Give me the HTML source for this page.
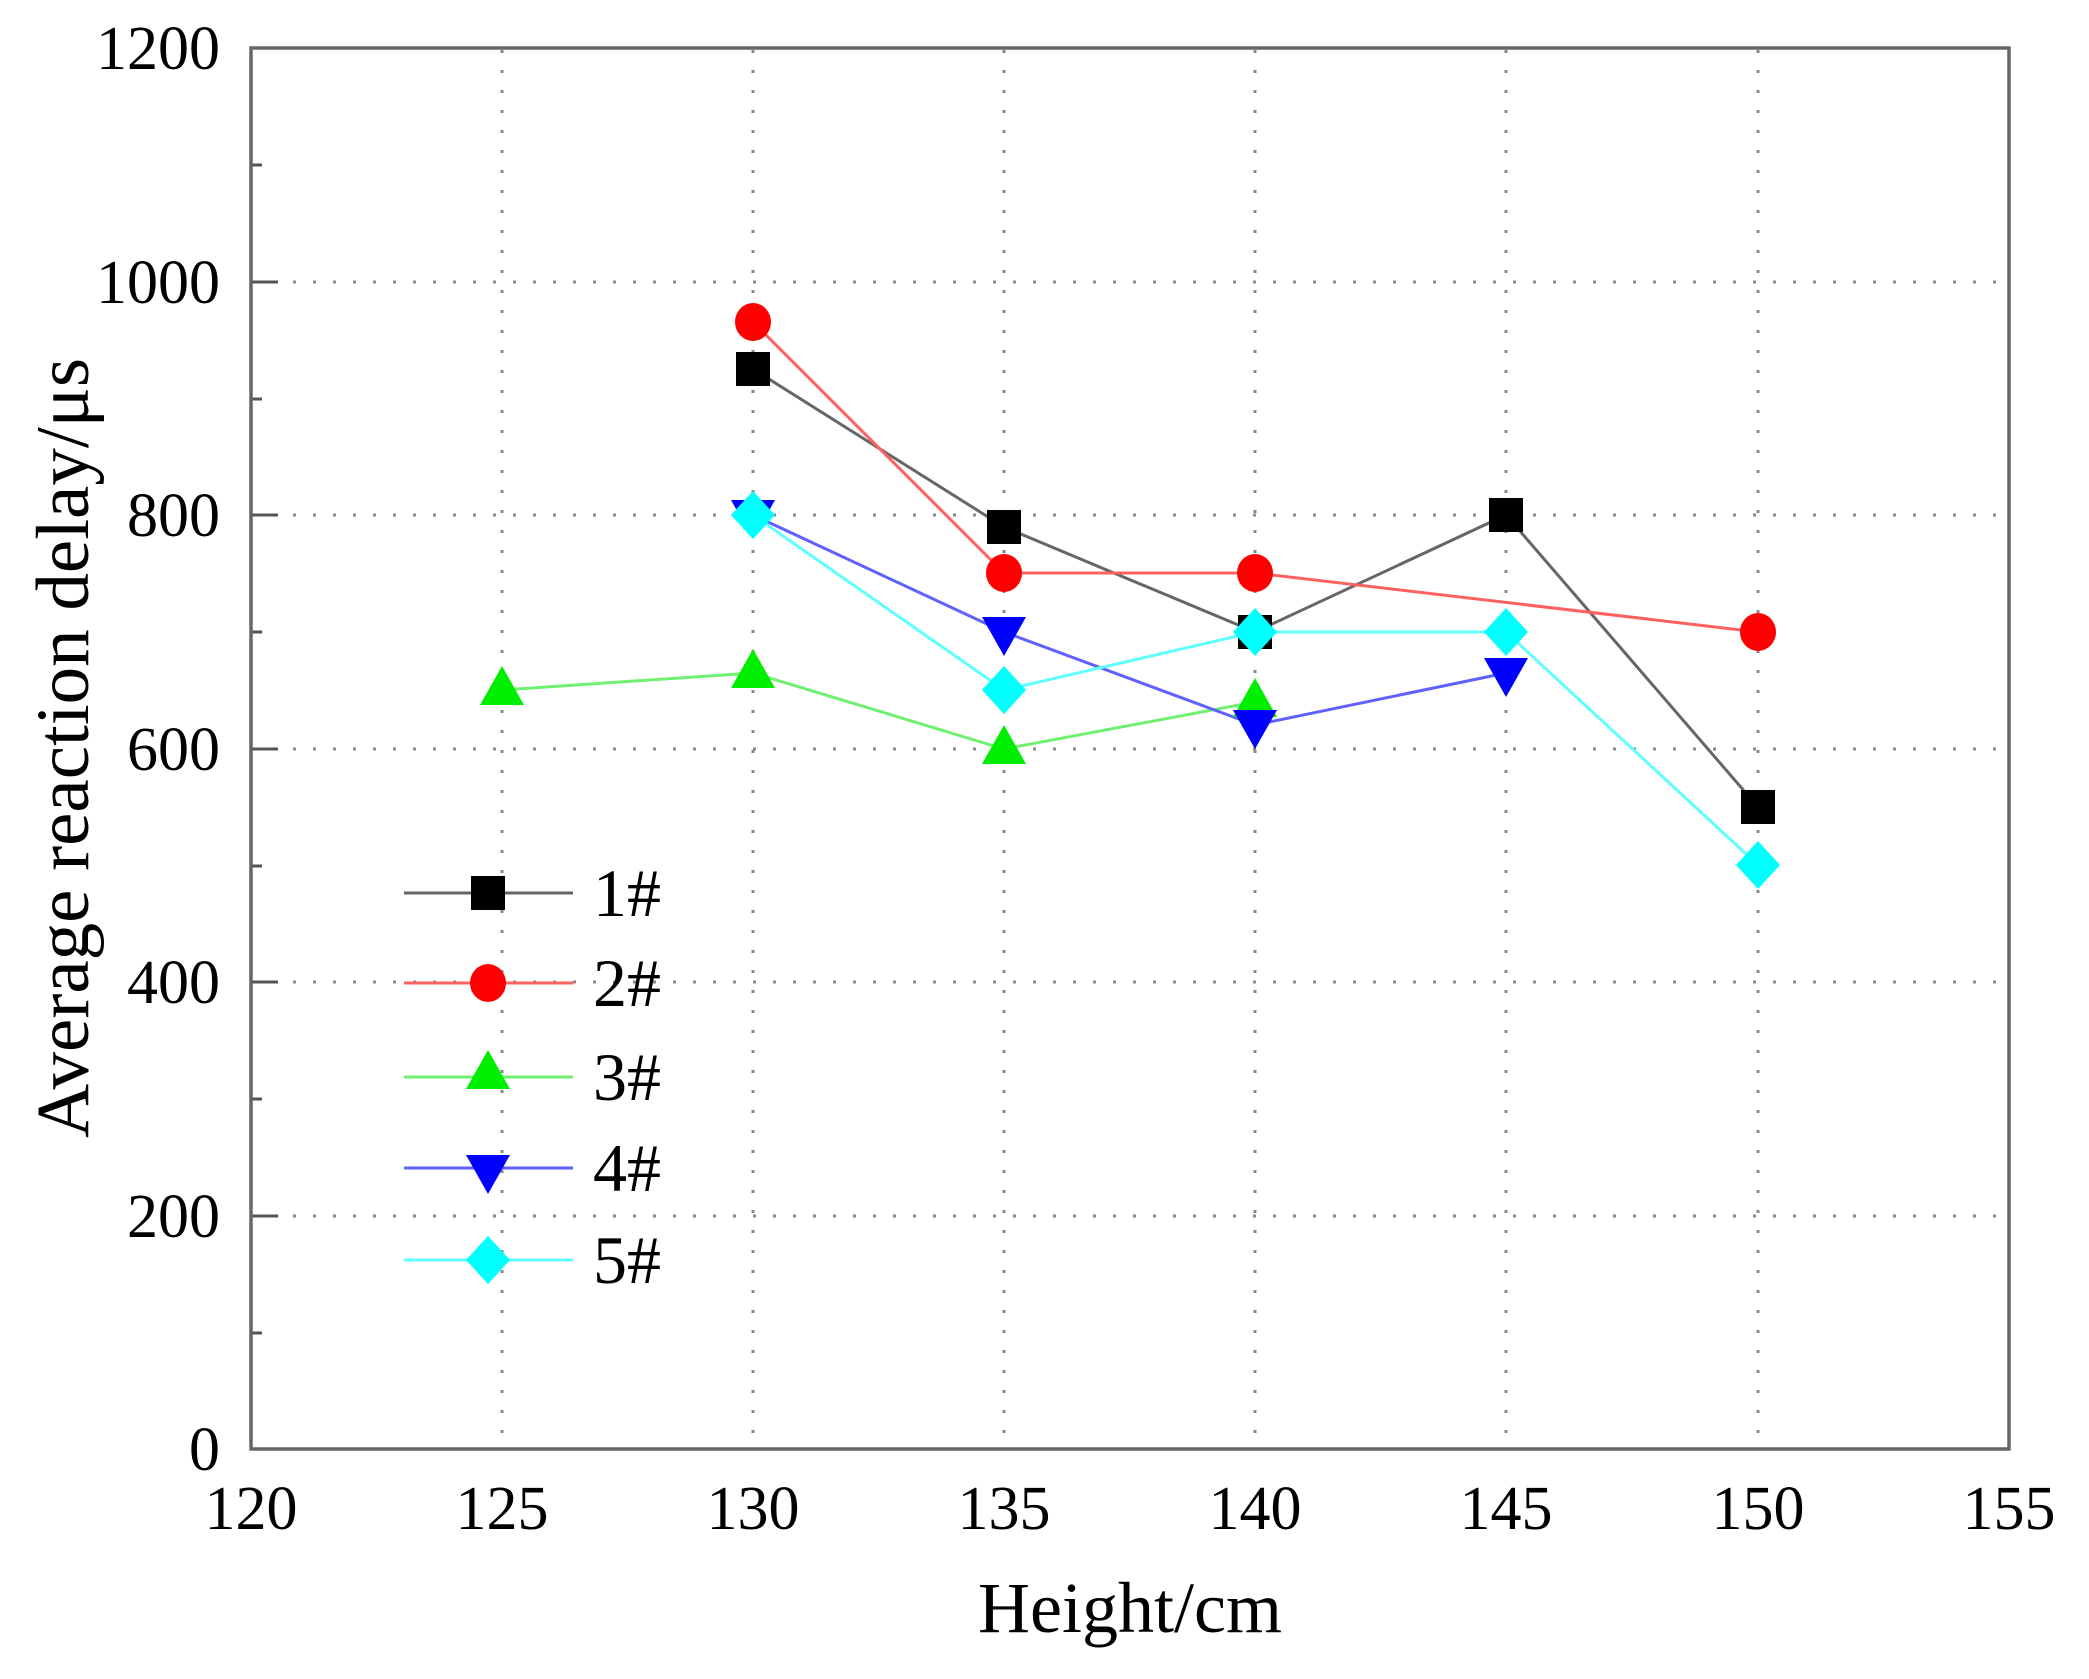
<!DOCTYPE html>
<html><head><style>html,body{margin:0;padding:0;background:#fff}svg{display:block}</style></head>
<body>
<svg width="2089" height="1679" viewBox="0 0 2089 1679" xmlns="http://www.w3.org/2000/svg" font-family="'Liberation Serif', serif">
<g stroke="#888" stroke-width="3" stroke-dasharray="3 17">
<line x1="502" y1="50" x2="502" y2="1447"/><line x1="753" y1="50" x2="753" y2="1447"/><line x1="1004" y1="50" x2="1004" y2="1447"/><line x1="1255" y1="50" x2="1255" y2="1447"/><line x1="1506" y1="50" x2="1506" y2="1447"/><line x1="1758" y1="50" x2="1758" y2="1447"/>
<line x1="253" y1="282" x2="2007" y2="282"/><line x1="253" y1="515" x2="2007" y2="515"/><line x1="253" y1="749" x2="2007" y2="749"/><line x1="253" y1="982" x2="2007" y2="982"/><line x1="253" y1="1216" x2="2007" y2="1216"/>
</g>
<g stroke="#555" stroke-width="3">
<line x1="251" y1="282" x2="278" y2="282"/><line x1="251" y1="515" x2="278" y2="515"/><line x1="251" y1="749" x2="278" y2="749"/><line x1="251" y1="982" x2="278" y2="982"/><line x1="251" y1="1216" x2="278" y2="1216"/>
<line x1="251" y1="165" x2="262" y2="165"/><line x1="251" y1="399" x2="262" y2="399"/><line x1="251" y1="632" x2="262" y2="632"/><line x1="251" y1="866" x2="262" y2="866"/><line x1="251" y1="1099" x2="262" y2="1099"/><line x1="251" y1="1333" x2="262" y2="1333"/>
</g>
<rect x="251" y="48" width="1758" height="1401" fill="none" stroke="#666" stroke-width="3.5"/>
<g font-size="62" fill="#000" text-anchor="end">
<text x="220" y="69">1200</text><text x="220" y="303">1000</text><text x="220" y="536">800</text><text x="220" y="770">600</text><text x="220" y="1003">400</text><text x="220" y="1237">200</text><text x="220" y="1470">0</text>
</g>
<g font-size="62" fill="#000" text-anchor="middle">
<text x="251" y="1529">120</text><text x="502" y="1529">125</text><text x="753" y="1529">130</text><text x="1004" y="1529">135</text><text x="1255" y="1529">140</text><text x="1506" y="1529">145</text><text x="1758" y="1529">150</text><text x="2009" y="1529">155</text>
</g>
<text x="1130" y="1632" font-size="72" text-anchor="middle">Height/cm</text>
<text transform="translate(88,748) rotate(-90)" font-size="75" text-anchor="middle">Average reaction delay/μs</text>
<g fill="none" stroke-width="3">
<polyline stroke="#666" points="753,369 1004,527 1255,632 1506,515 1758,807"/>
<polyline stroke="#ff6060" points="753,322 1004,573 1255,573 1758,632"/>
<polyline stroke="#70f070" points="502,690 753,673 1004,749 1255,702"/>
<polyline stroke="#6060ff" points="753,515 1004,632 1255,725 1506,673"/>
<polyline stroke="#60ffff" points="753,515 1004,690 1255,632 1506,632 1758,865"/>
</g>
<defs>
<rect id="sq" x="-17" y="-17" width="34" height="34" fill="#000"/>
<ellipse id="ci" rx="18" ry="19" fill="#f00"/>
<polygon id="tu" points="0,-24 22,15 -22,15" fill="#0e0"/>
<polygon id="td" points="0,24 22,-15 -22,-15" fill="#00f"/>
<polygon id="di" points="0,-24 22,0 0,24 -22,0" fill="#0ff"/>
</defs>
<use href="#sq" x="753" y="369"/><use href="#sq" x="1004" y="527"/><use href="#sq" x="1255" y="632"/><use href="#sq" x="1506" y="515"/><use href="#sq" x="1758" y="807"/>
<use href="#ci" x="753" y="322"/><use href="#ci" x="1004" y="573"/><use href="#ci" x="1255" y="573"/><use href="#ci" x="1758" y="632"/>
<use href="#tu" x="502" y="690"/><use href="#tu" x="753" y="673"/><use href="#tu" x="1004" y="749"/><use href="#tu" x="1255" y="702"/>
<use href="#td" x="753" y="515"/><use href="#td" x="1004" y="632"/><use href="#td" x="1255" y="725"/><use href="#td" x="1506" y="673"/>
<use href="#di" x="753" y="515"/><use href="#di" x="1004" y="690"/><use href="#di" x="1255" y="632"/><use href="#di" x="1506" y="632"/><use href="#di" x="1758" y="865"/>
<g stroke-width="3">
<line x1="404" y1="893" x2="573" y2="893" stroke="#666"/>
<line x1="404" y1="983" x2="573" y2="983" stroke="#ff6060"/>
<line x1="404" y1="1077" x2="573" y2="1077" stroke="#70f070"/>
<line x1="404" y1="1168" x2="573" y2="1168" stroke="#6060ff"/>
<line x1="404" y1="1260" x2="573" y2="1260" stroke="#60ffff"/>
</g>
<use href="#sq" x="488" y="893"/><use href="#ci" x="488" y="983"/><use href="#tu" x="488" y="1074"/><use href="#td" x="488" y="1170"/><use href="#di" x="488" y="1260"/>
<g font-size="68" fill="#000">
<text x="593" y="916">1#</text><text x="593" y="1006">2#</text><text x="593" y="1100">3#</text><text x="593" y="1191">4#</text><text x="593" y="1283">5#</text>
</g>
</svg>
</body></html>
